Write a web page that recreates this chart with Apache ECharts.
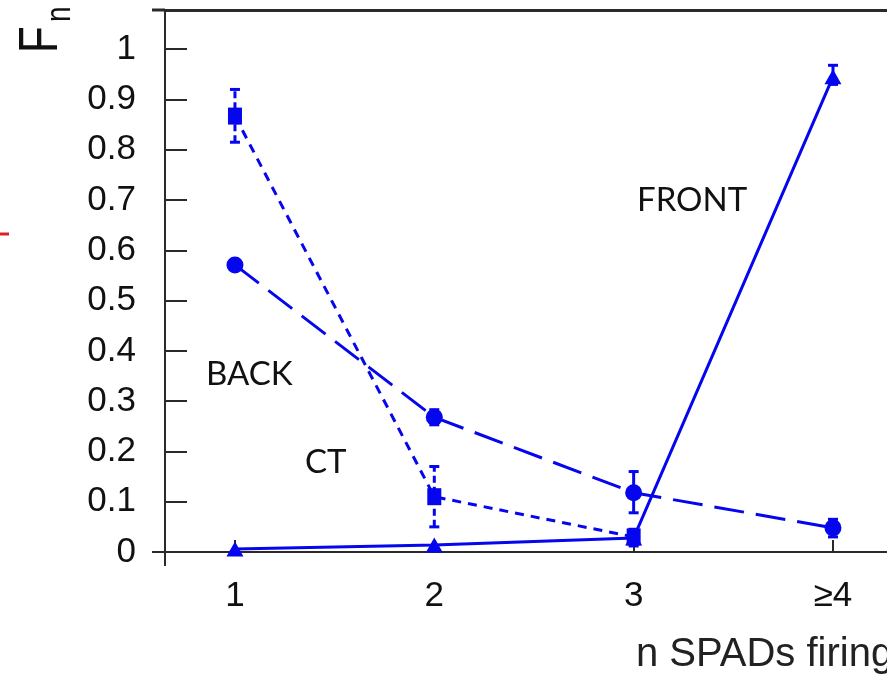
<!DOCTYPE html>
<html>
<head>
<meta charset="utf-8">
<script src="https://cdn.jsdelivr.net/npm/echarts@6/dist/echarts.min.js"></script>
<style>html,body{margin:0;padding:0;background:#fff}#c{width:887px;height:682px}</style>
</head>
<body>
<div id="c"></div>
<script>
// ---- data ----
const xTickValues = [1, 2, 3, 4];
const xTickLabels = ['1', '2', '3', '≥4'];
const yTickValues = [0, 0.1, 0.2, 0.3, 0.4, 0.5, 0.6, 0.7, 0.8, 0.9, 1];

const ctX = [1, 2, 3];
const ctY = [0.867, 0.11, 0.03];
const ctErrLo = [0.815, 0.05, 0.02];
const ctErrHi = [0.92, 0.17, 0.045];

const backX = [1, 2, 3, 4];
const backY = [0.571, 0.268, 0.118, 0.048];
const backErrLo = [0.571, 0.253, 0.078, 0.03];
const backErrHi = [0.571, 0.283, 0.16, 0.065];

const frontX = [1, 2, 3, 4];
const frontY = [0.006, 0.014, 0.028, 0.945];
const frontErrLo = [0.006, 0.014, 0.012, 0.93];
const frontErrHi = [0.006, 0.014, 0.045, 0.968];

const seriesLabels = ['FRONT', 'BACK', 'CT'];
const yAxisName = ['F', 'n'];
const xAxisName = 'n SPADs firing';

// ---- chart ----
const BLUE = '#0505ee';
const AXIS = '#2a2a2a';
const chart = echarts.init(document.getElementById('c'), null, {renderer: 'canvas'});

function pairs(xs, ys) { return xs.map((x, i) => [x, ys[i]]); }
function errs(xs, lo, hi) { return xs.map((x, i) => [x, lo[i], hi[i]]); }

function errSeries(data, dash) {
  return {
    type: 'custom',
    data: data,
    encode: {x: 0, y: [1, 2]},
    clip: false,
    z: 3,
    renderItem: function (params, api) {
      const x = api.value(0), lo = api.value(1), hi = api.value(2);
      if (hi - lo < 1e-6) return null;
      const p1 = api.coord([x, lo]);
      const p2 = api.coord([x, hi]);
      const cap = 5;
      const st = {stroke: BLUE, lineWidth: 3};
      return {
        type: 'group',
        children: [
          {type: 'line', shape: {x1: p1[0], y1: p1[1], x2: p2[0], y2: p2[1]},
            style: Object.assign({}, st, dash ? {lineDash: dash} : {})},
          {type: 'line', shape: {x1: p1[0] - cap, y1: p1[1], x2: p1[0] + cap, y2: p1[1]}, style: st},
          {type: 'line', shape: {x1: p2[0] - cap, y1: p2[1], x2: p2[0] + cap, y2: p2[1]}, style: st}
        ]
      };
    }
  };
}

const labelFont = '"Liberation Sans", Arial, sans-serif';
const calloutFont = 'Lato, "Open Sans", sans-serif';

const option = {
  animation: false,
  backgroundColor: '#fff',
  grid: {left: 165, top: 10, right: 0, bottom: 130, containLabel: false},
  xAxis: [{
    type: 'value',
    min: 0.649,
    max: 4.271,
    splitLine: {show: false},
    axisLine: {show: true, lineStyle: {color: AXIS, width: 2}},
    axisTick: {show: true, inside: true, length: 12, customValues: xTickValues, lineStyle: {color: AXIS, width: 2}},
    axisLabel: {
      customValues: xTickValues,
      margin: 27,
      fontSize: 35,
      fontFamily: labelFont,
      color: '#111',
      formatter: function (v) { return xTickLabels[xTickValues.indexOf(Math.round(v))]; }
    }
  }, {
    type: 'value',
    position: 'top',
    min: 0.649,
    max: 4.271,
    splitLine: {show: false},
    axisLine: {show: true, lineStyle: {color: AXIS, width: 3}},
    axisTick: {show: false},
    axisLabel: {show: false}
  }],
  yAxis: {
    type: 'value',
    min: 0,
    max: 1.078,
    splitLine: {show: false},
    axisLine: {show: true, lineStyle: {color: AXIS, width: 2}},
    axisTick: {show: true, inside: true, length: 22, customValues: yTickValues, lineStyle: {color: AXIS, width: 2}},
    axisLabel: {
      customValues: yTickValues,
      margin: 29,
      fontSize: 35,
      fontFamily: labelFont,
      color: '#111',
      formatter: function (v) { return String(Math.round(v * 10) / 10); }
    }
  },
  series: [
    {
      name: 'CT', type: 'line', data: pairs(ctX, ctY),
      symbol: 'rect', symbolSize: [14, 17],
      lineStyle: {color: BLUE, width: 3, type: [9, 7]},
      itemStyle: {color: BLUE}, z: 4
    },
    {
      name: 'BACK', type: 'line', data: pairs(backX, backY),
      symbol: 'circle', symbolSize: 17,
      lineStyle: {color: BLUE, width: 3, type: [30, 12]},
      itemStyle: {color: BLUE}, z: 4
    },
    {
      name: 'FRONT', type: 'line', data: pairs(frontX, frontY),
      symbol: 'triangle', symbolSize: [17, 15],
      lineStyle: {color: BLUE, width: 3},
      itemStyle: {color: BLUE}, z: 4
    },
    errSeries(errs(ctX, ctErrLo, ctErrHi), [7, 4]),
    errSeries(errs(backX, backErrLo, backErrHi), null),
    errSeries(errs(frontX, frontErrLo, frontErrHi), null)
  ],
  graphic: [
    // axis extensions (crossed-axes look)
    {type: 'line', shape: {x1: 152, y1: 552, x2: 165, y2: 552}, style: {stroke: AXIS, lineWidth: 2}, silent: true},
    {type: 'line', shape: {x1: 165, y1: 552, x2: 165, y2: 566}, style: {stroke: AXIS, lineWidth: 2}, silent: true},
    {type: 'line', shape: {x1: 152, y1: 10, x2: 165, y2: 10}, style: {stroke: AXIS, lineWidth: 3}, silent: true},
    // red fragment on the left edge
    {type: 'line', shape: {x1: 0, y1: 234, x2: 9, y2: 234}, style: {stroke: '#e02020', lineWidth: 3}, silent: true},
    // y-axis name F_n (rotated)
    {
      type: 'group', x: 42, y: 53, rotation: Math.PI / 2, scaleX: 1, scaleY: 1.25, silent: true,
      children: [
        {type: 'text', x: 0, y: 0, style: {text: yAxisName[0], font: '44px ' + labelFont, fill: '#111', textAlign: 'left', textVerticalAlign: 'middle'}},
        {type: 'text', x: 31, y: 15, style: {text: yAxisName[1], font: '28px ' + labelFont, fill: '#111', textAlign: 'left', textVerticalAlign: 'middle'}}
      ]
    },
    // x-axis name
    {type: 'text', left: 636, top: 635, silent: true, style: {text: xAxisName, font: '40px ' + labelFont, fill: '#222'}},
    // callouts
    {type: 'text', x: 637, y: 200, silent: true, style: {text: seriesLabels[0], font: '33px ' + calloutFont, fill: '#111', textVerticalAlign: 'middle'}},
    {type: 'text', x: 206, y: 374, silent: true, style: {text: seriesLabels[1], font: '33px ' + calloutFont, fill: '#111', textVerticalAlign: 'middle'}},
    {type: 'text', x: 305, y: 462, silent: true, style: {text: seriesLabels[2], font: '33px ' + calloutFont, fill: '#111', textVerticalAlign: 'middle'}}
  ]
};
chart.setOption(option);
</script>
</body>
</html>
